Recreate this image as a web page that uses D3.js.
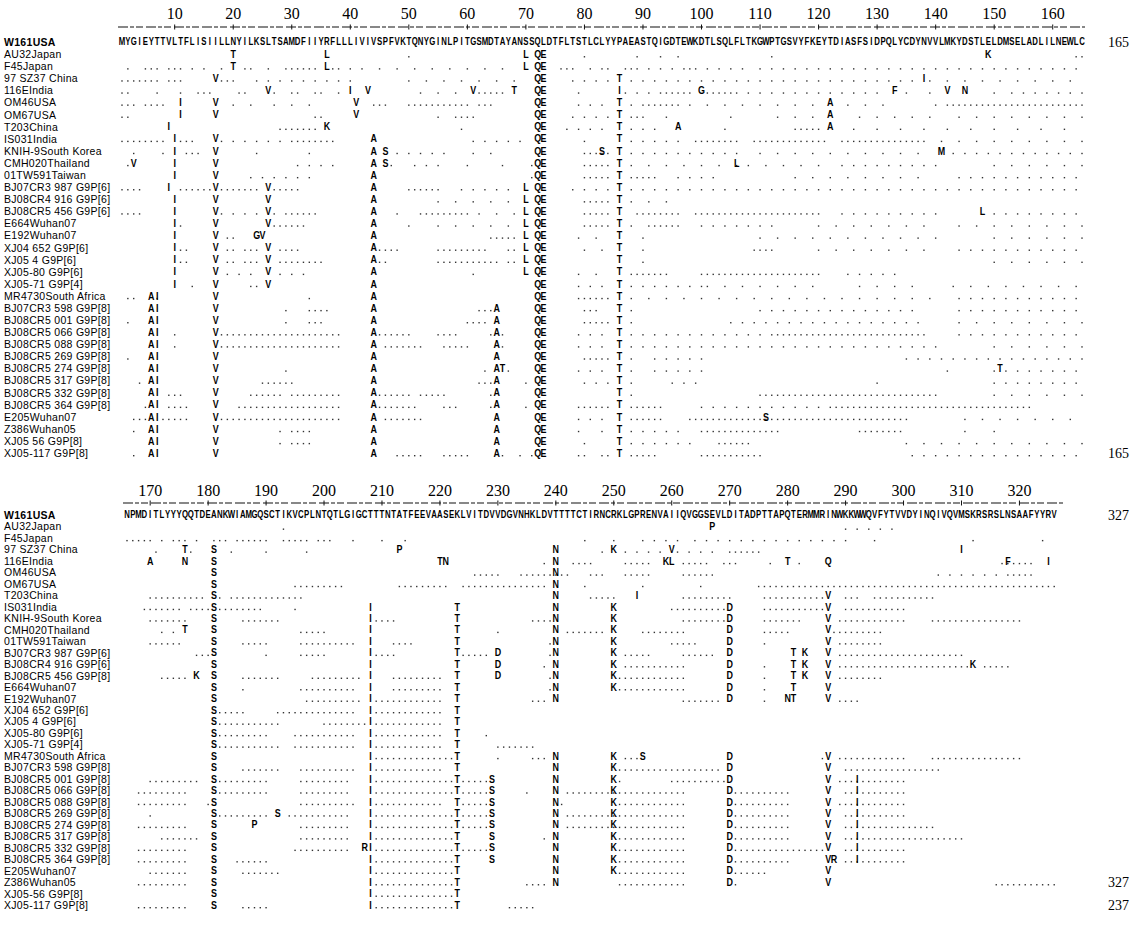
<!DOCTYPE html>
<html><head><meta charset="utf-8">
<script src="https://cdn.jsdelivr.net/npm/d3@7"></script>
<style>body{margin:0;background:#fff}</style>
</head><body><svg id="c" width="1137" height="934"></svg>
<script>
const strains1 = ["W161USA","AU32Japan","F45Japan","97 SZ37 China","116EIndia","OM46USA","OM67USA","T203China","IS031India","KNIH-9South Korea","CMH020Thailand","01TW591Taiwan","BJ07CR3 987 G9P[6]","BJ08CR4 916 G9P[6]","BJ08CR5 456 G9P[6]","E664Wuhan07","E192Wuhan07","XJ04 652 G9P[6]","XJ05 4 G9P[6]","XJ05-80 G9P[6]","XJ05-71 G9P[4]","MR4730South Africa","BJ07CR3 598 G9P[8]","BJ08CR5 001 G9P[8]","BJ08CR5 066 G9P[8]","BJ08CR5 088 G9P[8]","BJ08CR5 269 G9P[8]","BJ08CR5 274 G9P[8]","BJ08CR5 317 G9P[8]","BJ08CR5 332 G9P[8]","BJ08CR5 364 G9P[8]","E205Wuhan07","Z386Wuhan05","XJ05 56 G9P[8]","XJ05-117 G9P[8]"];
const strains2 = ["W161USA","AU32Japan","F45Japan","97 SZ37 China","116EIndia","OM46USA","OM67USA","T203China","IS031India","KNIH-9South Korea","CMH020Thailand","01TW591Taiwan","BJ07CR3 987 G9P[6]","BJ08CR4 916 G9P[6]","BJ08CR5 456 G9P[8]","E664Wuhan07","E192Wuhan07","XJ04 652 G9P[6]","XJ05 4 G9P[6]","XJ05-80 G9P[6]","XJ05-71 G9P[4]","MR4730South Africa","BJ07CR3 598 G9P[8]","BJ08CR5 001 G9P[8]","BJ08CR5 066 G9P[8]","BJ08CR5 088 G9P[8]","BJ08CR5 269 G9P[8]","BJ08CR5 274 G9P[8]","BJ08CR5 317 G9P[8]","BJ08CR5 332 G9P[8]","BJ08CR5 364 G9P[8]","E205Wuhan07","Z386Wuhan05","XJ05-56 G9P[8]","XJ05-117 G9P[8]"];

const refSeq1 = "MYGIEYTTVLTFLISIILLNYILKSLTSAMDFIIYRFLLLIVIVSPFVKTQNYGINLPITGSMDTAYANSSQLDTFLTSTLCLYYPAEASTQIGDTEWKDTLSQLFLTKGWPTGSVYFKEYTDIASFSIDPQLYCDYNVVLMKYDSTLELDMSELADLILNEWLC";
const refSeq2 = "NPMDITLYYYQQTDEANKWIAMGQSCTIKVCPLNTQTLGIGCTTTNTATFEEVAASEKLVITDVVDGVNHKLDVTTTTCTIRNCRKLGPRENVAIIQVGGSEVLDITADPTTAPQTERMMRINWKKWWQVFYTVVDYINQIVQVMSKRSRSLNSAAFYYRV";
const ticks1 = [10,20,30,40,50,60,70,80,90,100,110,120,130,140,150,160];
const ticks2 = [170,180,190,200,210,220,230,240,250,260,270,280,290,300,310,320];

const subs1 = [
"",
"T20 L36 L70 Q72 E73 K149",
"T20 L36 L70 Q72 E73",
"V17 Q72 E73 T86 I138",
"V26 I40 V43 V61 T68 Q72 E73 I86 G100 F133 V142 N145",
"I11 V17 V41 Q72 E73 T86 A122",
"I11 V17 V41 Q72 E73 T86 A122",
"I9 K36 Q72 E73 T86 A96 A122",
"I10 V17 A44 Q72 E73 T86",
"I10 V17 A44 S46 Q72 E73 S83 T86 M141",
"V3 I10 V17 A44 S46 Q72 E73 T86 L106",
"I10 V17 A44 Q72 E73 T86",
"I9 V17 V26 A44 L70 Q72 E73 T86",
"I10 V17 V26 A44 L70 Q72 E73 T86",
"I10 V17 V26 A44 L70 Q72 E73 T86 L148",
"I10 V17 V26 A44 L70 Q72 E73 T86",
"I10 V17 G24 V25 A44 L70 Q72 E73 T86",
"I10 V17 V26 A44 L70 Q72 E73 T86",
"I10 V17 V26 A44 L70 Q72 E73 T86",
"I10 V17 V26 A44 L70 Q72 E73 T86",
"I10 V17 V26 A44 Q72 E73 T86",
"A6 I7 V17 A44 Q72 E73 T86",
"A6 I7 V17 A44 A65 Q72 E73 T86",
"A6 I7 V17 A44 A65 Q72 E73 T86",
"A6 I7 V17 A44 A65 Q72 E73 T86",
"A6 I7 V17 A44 A65 Q72 E73 T86",
"A6 I7 V17 A44 A65 Q72 E73 T86",
"A6 I7 V17 A44 A65 T66 Q72 E73 T86 T151",
"A6 I7 V17 A44 A65 Q72 E73 T86",
"A6 I7 V17 A44 A65 Q72 E73 T86",
"A6 I7 V17 A44 A65 Q72 E73 T86",
"A6 I7 V17 A44 A65 Q72 E73 T86 S111",
"A6 I7 V17 A44 A65 Q72 E73 T86",
"A6 I7 V17 A44 A65 Q72 E73 T86",
"A6 I7 V17 A44 A65 Q72 E73 T86"
];
const dots1 = [
"",
"50 80 89 93 96 112 164 165",
"2 5-7 9-11 13-15/2 18 22-23 26 29-34 37-38 40 42 45-68/3 76-78 81 83-84 87-89 91-95/2 97-99 101-108/2 110-165/2",
"1-7 9-11 18-20 24-40/2 50-70/3 78-84/2 88-96/2 98-136/2 139 142-165/3",
"1-2 7 11 14-16 21-22 27 30-31 34-35 38 52-58/3 62-66 79 87-91/2 93-98 101-106 108-131/2 135 139 150 153-165/2",
"1-3 5-8 20 23 27-34/3 44-46 50-60 62-64 79-83/2 88 90-96 98-120/3 125-132/3 140 142-165",
"1-2 34-35 55 58-61 78-84/2 88-90 94 105 113-120/3 127-139/3 144-165/3",
"28-34 59 77-84/2 88-93/2 104 116-120 126-165/4",
"1-8 11-13 18-28/2 30-37 61-70/2 80 88-96/2 99-106 109-121 124-138 141-165/3",
"3 8 12-14 24 33 48-56/2 61 64 80-84 88-106/2 110-139/3 143-165/2",
"2 31-37/2 47 51-56/2 60 66 71 80-84 88-106/3 108-121/3 124-140/2 150-165/3",
"23-34/2 71 80-84 88-92 96-103/2 116-138/3 144-165/2",
"1-4 11-16 18-24 27-31 50-55 59-68/2 78-84/2 88-165/2",
"55-68/3 80-84 88-96/3",
"1-4 18-24/2 27 29-34 48 52-60 62-68/3 80-84 89-96 99-120 124-140/2 150-165/2",
"11 27-32 50 55-68/3 80-84 88 91-96 100-113/2 120-140/3 144-165/3",
"19-20 24 64-68 79-84/3 90 110-140/3 150-165/3",
"11-12 19-20 22-24 28-31 45-48 55-63 67-68 80-84/3 90 109-112 120-140/3 144-165/2",
"11-12 19-20 22-24 28-35 45-46 55-65 67-68 90 150-165/3",
"19-24/2 28-32/2 61 79-84/3 88-94 100-120 125-134/2",
"13 23-24 79-84/2 88-100/2 101-120/3 127-138/3 143-165/3",
"2-3 7 33 79-84 88-140/3 144-165/2",
"29 33-36 62-64 80-82 88 110-136/2 144-165/2",
"2 29 33-35 60-63 80-84 88 105-138/2 144-165/3",
"10 18-38 45-50 55-58 64 66 79-84/2 88-110/2 112-138 144-165/2",
"10 18-38 46-52 56-60 66 79-84/2 88-140/2 150-165/3",
"2 80-84 88 92-100/2 135-165/2",
"29 63 67 79-84/2 88 92-100/2 142 150-165/2",
"4 25-30 62-64 70 80-84/2 88 95-100/2 130 150-165/2",
"9-11 23-28 30-38 45-50 52-56 64 88 110-140 150-165/3",
"5 9-12 21-30 31-38 45-51 56-58 64 70 79-84 88-93 100-120/2 122-156",
"3-5 8-12 17-38 46-52 79-84/2 88-93 98-135 145-165/3",
"3 28 30-33 79 83 88-96/2 100-113 127-134 145 150",
"28 30-33 80 88-98/2 103-108 135-165/3",
"3 48-52 56-60 66 69 71 79-80 83-84 88-92 100-110 136-165/2"
];

const subs2 = [
"",
"P267",
"",
"T176 S181 P213 N240 K250 V260 I310",
"A170 N176 S181 T220 N221 N240 K259 L260 T280 Q287 F318 I325",
"S181 N240",
"S181 N240",
"S181 N240 I254 V287",
"S181 I208 T223 N240 K250 D270 V287",
"S181 I208 T223 N240 K250 D270 V287",
"T176 S181 I208 T223 N240 K250 D270 V287",
"S181 I208 T223 N240 K250 D270 V287",
"S181 I208 T223 D230 N240 K250 D270 T281 K283 V287",
"S181 I208 T223 D230 N240 K250 D270 T281 K283 V287 K312",
"K178 S181 I208 T223 D230 N240 K250 D270 T281 K283 V287",
"S181 I208 T223 N240 K250 D270 T281 V287",
"S181 I208 T223 N240 D270 N280 T281 V287",
"S181 I208 T223",
"S181 I208 T223",
"S181 I208 T223",
"S181 I208 T223",
"S181 I208 T223 N240 K250 S255 D270 V287",
"S181 I208 T223 N240 K250 D270 V287",
"S181 I208 T223 S229 N240 K250 D270 V287 I292",
"S181 I208 T223 S229 N240 K250 D270 V287 I292",
"S181 I208 T223 S229 N240 K250 D270 V287 I292",
"S181 S192 I208 T223 S229 N240 K250 D270 V287 I292",
"S181 P188 I208 T223 S229 N240 K250 D270 V287 I292",
"S181 I208 T223 S229 N240 K250 D270 V287 I292",
"S181 R207 I208 T223 S229 N240 K250 D270 V287 I292",
"S181 I208 T223 S229 N240 K250 D270 V287 R288 I292",
"S181 I208 T223 N240 K250 D270 V287",
"S181 I208 T223 N240 D270 V287",
"S181 I208 T223",
"S181 I208 T223"
];
const dots2 = [
"",
"193 290-298/2",
"166-170 172 174-176 178 181-183 185-190 193-197 199-201 205 210 214 245 250 255-262/2 264-270/2 272-282/2 284-290/2 295 312 324",
"171 177 184 190 197 248 252-258/2 261-268/2 270-275",
"238 243-246 252-256 262-266 269-271 277 282 317-322",
"226-230 234-242 246-248 252-256 262-267 306-318/2 319-322",
"195-203 213-221 224-238 245 255 265 275-326",
"170-179 182 184-196 246-250 262-270 276-286 290-292 295-305",
"169-175 177-180 182-189 195 260-269 276-286 290-300",
"170-176 186-192 209-212 236-239 262-269 276-282 289-300 305-320",
"172 174 196-200 230 242-248 255-262 276-280 288-296",
"170-175 186-190 196-205 212-215 239 260-264 276 289-296",
"178-180 190 196-200 209-212 224-228 239 252-256 262-267 289-310",
"238 252-262 276 289-311 314-318",
"172-176 186-192 198-206 212-220 239 251-262 276 289-296",
"186 196-205 212-220 239 251-262 276",
"197-206 209-220 236-238 262-268 276 289-292",
"182-186 192-205 209-220",
"182-192 200-207 209-220",
"182-190 195-205 209-220 228",
"182-192 195-205 209-220 230-236",
"209-222 230 236-238 252-254 286 289-300 305-320",
"186-192 196-205 209-220 251-268 290-306",
"170-178 182-190 196-204 209-222 224-228 251 260-269 289-300",
"168-176 182-190 196-204 209-222 224-228 235 242-262 271-280 290-300",
"168-176 180 196-205 209-220 224-228 241 251-262 271-280 289-300",
"170 182-190 194-204 209-222 224-228 242-262 271-280 290-300",
"168-176 196-204 209-222 224-228 242-262 271-280 290-305",
"172-178 196-204 209-222 238 251-262 271-280 290-310",
"168-176 195-204 209-222 224-228 251-262 271-286 290-300",
"168-176 185-190 209-222 251-262 271-280 290-300",
"170-176 186-192 209-222 251-262 271-276",
"168-176 209-222 235-238 251-262 271 316-326",
"209-222",
"168-176 186-190 209-222 232-236"
];
const endLabels1 = [{row:0,text:"165"},{row:34,text:"165"}];
const endLabels2 = [{row:0,text:"327"},{row:32,text:"327"},{row:34,text:"237"}];

function parseSubs(s){ s=s.trim(); return s? s.split(/\s+/).map(t=>({aa:t[0],pos:+t.slice(1)})) : []; }
function parseDots(s){ const out=[]; s.trim().split(/\s+/).filter(Boolean).forEach(tok=>{ let [r,st]=tok.split('/'); st=st?+st:1; let [a,b]=r.split('-').map(Number); if(b===undefined)b=a; for(let p=a;p<=b;p+=st) out.push(p);}); return out; }

const svg = d3.select("#c");
svg.append("rect").attr("width",1137).attr("height",934).attr("fill","#fff");

function drawBlock(cfg){
  const g = svg.append("g");
  const x = d3.scaleLinear().domain(cfg.domain).range(cfg.range);
  const y = d3.scalePoint().domain(d3.range(cfg.names.length)).range(cfg.yRange);
  g.selectAll("text.tick").data(cfg.ticks).join("text")
    .attr("x", d=>x(d)).attr("y", cfg.numY)
    .attr("text-anchor","middle").attr("dominant-baseline","central")
    .attr("font-family","Liberation Serif, Times New Roman, serif").attr("font-size",16)
    .text(d=>d);
  g.append("line").attr("x1",x(cfg.domain[0])-4).attr("x2",x(cfg.domain[1])+3)
    .attr("y1",cfg.lineY).attr("y2",cfg.lineY).attr("stroke","#111").attr("stroke-width",1.1)
    .attr("stroke-dasharray","10,2,4,2,7,3");
  g.selectAll("line.tk").data(cfg.ticks).join("line")
    .attr("x1",d=>x(d)).attr("x2",d=>x(d)).attr("y1",cfg.lineY-2.5).attr("y2",cfg.lineY+2.5)
    .attr("stroke","#111").attr("stroke-width",1);
  g.selectAll("text.lab").data(cfg.names).join("text")
    .attr("x",4).attr("y",(d,i)=>y(i))
    .attr("dominant-baseline","central")
    .attr("font-family","Liberation Sans, Arial, sans-serif").attr("font-size",10.5)
    .attr("letter-spacing",0.3)
    .attr("font-weight",(d,i)=>i===0?"bold":"normal")
    .text(d=>d);
  const refLetters = cfg.ref.split("").map((c,i)=>({c,pos:cfg.domain[0]+i}));
  g.selectAll("text.ref").data(refLetters).join("text")
    .attr("transform",d=>`translate(${x(d.pos)},${y(0)}) scale(0.78,1)`)
    .attr("text-anchor","middle").attr("dominant-baseline","central")
    .attr("font-family","Liberation Sans, Arial, sans-serif").attr("font-weight","bold").attr("font-size",10)
    .text(d=>d.c);
  const dotData=[];
  cfg.dots.forEach((s,i)=>parseDots(s).forEach(p=>dotData.push({i,p})));
  g.selectAll("rect.dot").data(dotData).join("rect")
    .attr("x",d=>x(d.p)-0.7).attr("y",d=>y(d.i)+2).attr("width",1.4).attr("height",1.4).attr("fill","#333");
  const subData=[];
  cfg.subs.forEach((s,i)=>parseSubs(s).forEach(o=>subData.push({i,...o})));
  g.selectAll("text.sub").data(subData).join("text")
    .attr("transform",d=>`translate(${x(d.pos)},${y(d.i)}) scale(0.85,1)`)
    .attr("text-anchor","middle").attr("dominant-baseline","central")
    .attr("font-family","Liberation Sans, Arial, sans-serif").attr("font-weight","bold").attr("font-size",10.5)
    .text(d=>d.aa);
  g.selectAll("text.end").data(cfg.ends).join("text")
    .attr("x",1108).attr("y",d=>y(d.row))
    .attr("dominant-baseline","central")
    .attr("font-family","Liberation Serif, Times New Roman, serif").attr("font-size",14)
    .text(d=>d.text);
}

drawBlock({names:strains1, ref:refSeq1, ticks:ticks1, subs:subs1, dots:dots1, ends:endLabels1,
  domain:[1,165], range:[122,1082], yRange:[42,453], numY:13, lineY:27});
drawBlock({names:strains2, ref:refSeq2, ticks:ticks2, subs:subs2, dots:dots2, ends:endLabels2,
  domain:[166,327], range:[127,1060], yRange:[515,905], numY:490, lineY:503});
</script></body></html>
